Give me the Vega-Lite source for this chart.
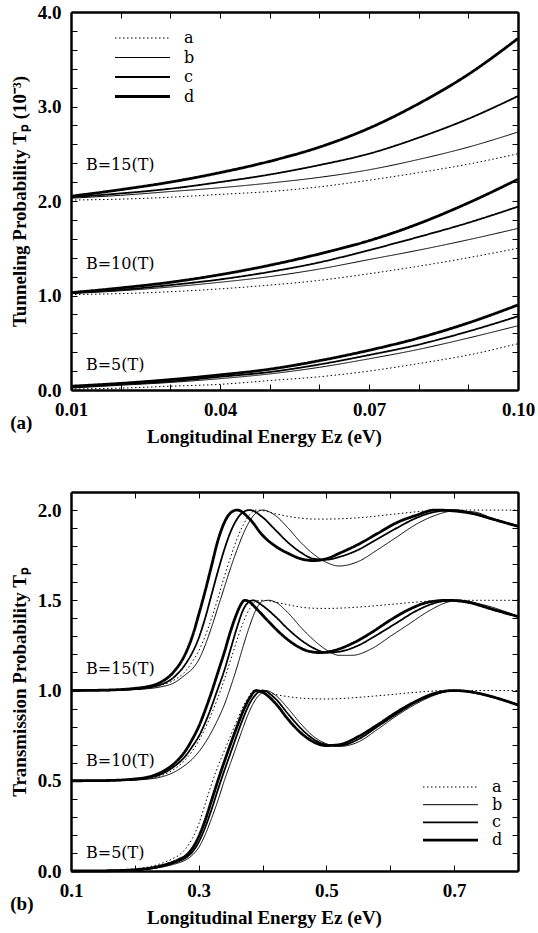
{
"$schema":"https://vega.github.io/schema/vega-lite/v6.json",
"background":"white",
"padding":{"left":10,"top":3,"right":2,"bottom":4},
"spacing":45,
"config":{
 "view":{"stroke":null},
 "axis":{"domainColor":"black","domainWidth":2.5,"tickColor":"black","tickWidth":1,"tickSize":-6,
  "labelFont":"Liberation Serif","labelFontWeight":"bold","labelFontSize":19,"labelColor":"black",
  "titleFont":"Liberation Serif","titleFontWeight":"bold","titleFontSize":19,"titleColor":"black",
  "grid":false,"labelPadding":16,"titlePadding":8,"labelFlush":false,"labelOverlap":false}
},
"resolve":{"legend":{"strokeDash":"independent","strokeWidth":"independent"}},
"datasets":{
"top":[
{"B":15,"curve":"a","E":0.01,"T":2.01},{"B":15,"curve":"a","E":0.02,"T":2.02},{"B":15,"curve":"a","E":0.03,"T":2.04},{"B":15,"curve":"a","E":0.04,"T":2.07},{"B":15,"curve":"a","E":0.05,"T":2.10},{"B":15,"curve":"a","E":0.06,"T":2.15},{"B":15,"curve":"a","E":0.07,"T":2.22},{"B":15,"curve":"a","E":0.08,"T":2.30},{"B":15,"curve":"a","E":0.09,"T":2.39},{"B":15,"curve":"a","E":0.10,"T":2.50},
{"B":15,"curve":"b","E":0.01,"T":2.03},{"B":15,"curve":"b","E":0.02,"T":2.06},{"B":15,"curve":"b","E":0.03,"T":2.10},{"B":15,"curve":"b","E":0.04,"T":2.14},{"B":15,"curve":"b","E":0.05,"T":2.19},{"B":15,"curve":"b","E":0.06,"T":2.25},{"B":15,"curve":"b","E":0.07,"T":2.33},{"B":15,"curve":"b","E":0.08,"T":2.44},{"B":15,"curve":"b","E":0.09,"T":2.57},{"B":15,"curve":"b","E":0.10,"T":2.73},
{"B":15,"curve":"c","E":0.01,"T":2.04},{"B":15,"curve":"c","E":0.02,"T":2.08},{"B":15,"curve":"c","E":0.03,"T":2.13},{"B":15,"curve":"c","E":0.04,"T":2.20},{"B":15,"curve":"c","E":0.05,"T":2.28},{"B":15,"curve":"c","E":0.06,"T":2.38},{"B":15,"curve":"c","E":0.07,"T":2.50},{"B":15,"curve":"c","E":0.08,"T":2.67},{"B":15,"curve":"c","E":0.09,"T":2.87},{"B":15,"curve":"c","E":0.10,"T":3.11},
{"B":15,"curve":"d","E":0.01,"T":2.05},{"B":15,"curve":"d","E":0.02,"T":2.12},{"B":15,"curve":"d","E":0.03,"T":2.20},{"B":15,"curve":"d","E":0.04,"T":2.30},{"B":15,"curve":"d","E":0.05,"T":2.42},{"B":15,"curve":"d","E":0.06,"T":2.57},{"B":15,"curve":"d","E":0.07,"T":2.77},{"B":15,"curve":"d","E":0.08,"T":3.03},{"B":15,"curve":"d","E":0.09,"T":3.34},{"B":15,"curve":"d","E":0.10,"T":3.72},
{"B":10,"curve":"a","E":0.01,"T":1.01},{"B":10,"curve":"a","E":0.02,"T":1.02},{"B":10,"curve":"a","E":0.03,"T":1.04},{"B":10,"curve":"a","E":0.04,"T":1.07},{"B":10,"curve":"a","E":0.05,"T":1.11},{"B":10,"curve":"a","E":0.06,"T":1.16},{"B":10,"curve":"a","E":0.07,"T":1.23},{"B":10,"curve":"a","E":0.08,"T":1.31},{"B":10,"curve":"a","E":0.09,"T":1.40},{"B":10,"curve":"a","E":0.10,"T":1.50},
{"B":10,"curve":"b","E":0.01,"T":1.02},{"B":10,"curve":"b","E":0.02,"T":1.05},{"B":10,"curve":"b","E":0.03,"T":1.09},{"B":10,"curve":"b","E":0.04,"T":1.14},{"B":10,"curve":"b","E":0.05,"T":1.20},{"B":10,"curve":"b","E":0.06,"T":1.28},{"B":10,"curve":"b","E":0.07,"T":1.38},{"B":10,"curve":"b","E":0.08,"T":1.48},{"B":10,"curve":"b","E":0.09,"T":1.59},{"B":10,"curve":"b","E":0.10,"T":1.71},
{"B":10,"curve":"c","E":0.01,"T":1.03},{"B":10,"curve":"c","E":0.02,"T":1.06},{"B":10,"curve":"c","E":0.03,"T":1.11},{"B":10,"curve":"c","E":0.04,"T":1.17},{"B":10,"curve":"c","E":0.05,"T":1.25},{"B":10,"curve":"c","E":0.06,"T":1.35},{"B":10,"curve":"c","E":0.07,"T":1.48},{"B":10,"curve":"c","E":0.08,"T":1.62},{"B":10,"curve":"c","E":0.09,"T":1.77},{"B":10,"curve":"c","E":0.10,"T":1.94},
{"B":10,"curve":"d","E":0.01,"T":1.03},{"B":10,"curve":"d","E":0.02,"T":1.08},{"B":10,"curve":"d","E":0.03,"T":1.14},{"B":10,"curve":"d","E":0.04,"T":1.22},{"B":10,"curve":"d","E":0.05,"T":1.32},{"B":10,"curve":"d","E":0.06,"T":1.44},{"B":10,"curve":"d","E":0.07,"T":1.58},{"B":10,"curve":"d","E":0.08,"T":1.76},{"B":10,"curve":"d","E":0.09,"T":1.98},{"B":10,"curve":"d","E":0.10,"T":2.23},
{"B":5,"curve":"a","E":0.01,"T":0.01},{"B":5,"curve":"a","E":0.02,"T":0.02},{"B":5,"curve":"a","E":0.03,"T":0.04},{"B":5,"curve":"a","E":0.04,"T":0.06},{"B":5,"curve":"a","E":0.05,"T":0.10},{"B":5,"curve":"a","E":0.06,"T":0.14},{"B":5,"curve":"a","E":0.07,"T":0.20},{"B":5,"curve":"a","E":0.08,"T":0.28},{"B":5,"curve":"a","E":0.09,"T":0.37},{"B":5,"curve":"a","E":0.10,"T":0.49},
{"B":5,"curve":"b","E":0.01,"T":0.02},{"B":5,"curve":"b","E":0.02,"T":0.05},{"B":5,"curve":"b","E":0.03,"T":0.08},{"B":5,"curve":"b","E":0.04,"T":0.12},{"B":5,"curve":"b","E":0.05,"T":0.17},{"B":5,"curve":"b","E":0.06,"T":0.24},{"B":5,"curve":"b","E":0.07,"T":0.33},{"B":5,"curve":"b","E":0.08,"T":0.43},{"B":5,"curve":"b","E":0.09,"T":0.55},{"B":5,"curve":"b","E":0.10,"T":0.68},
{"B":5,"curve":"c","E":0.01,"T":0.03},{"B":5,"curve":"c","E":0.02,"T":0.06},{"B":5,"curve":"c","E":0.03,"T":0.09},{"B":5,"curve":"c","E":0.04,"T":0.14},{"B":5,"curve":"c","E":0.05,"T":0.19},{"B":5,"curve":"c","E":0.06,"T":0.27},{"B":5,"curve":"c","E":0.07,"T":0.37},{"B":5,"curve":"c","E":0.08,"T":0.48},{"B":5,"curve":"c","E":0.09,"T":0.62},{"B":5,"curve":"c","E":0.10,"T":0.78},
{"B":5,"curve":"d","E":0.01,"T":0.04},{"B":5,"curve":"d","E":0.02,"T":0.07},{"B":5,"curve":"d","E":0.03,"T":0.11},{"B":5,"curve":"d","E":0.04,"T":0.16},{"B":5,"curve":"d","E":0.05,"T":0.22},{"B":5,"curve":"d","E":0.06,"T":0.31},{"B":5,"curve":"d","E":0.07,"T":0.42},{"B":5,"curve":"d","E":0.08,"T":0.55},{"B":5,"curve":"d","E":0.09,"T":0.71},{"B":5,"curve":"d","E":0.10,"T":0.90}
],
"bottom":[
{"B":15,"curve":"d","E":0.10,"T":1.000},{"B":15,"curve":"d","E":0.15,"T":1.002},{"B":15,"curve":"d","E":0.20,"T":1.012},{"B":15,"curve":"d","E":0.22,"T":1.022},{"B":15,"curve":"d","E":0.24,"T":1.045},{"B":15,"curve":"d","E":0.26,"T":1.10},{"B":15,"curve":"d","E":0.28,"T":1.21},{"B":15,"curve":"d","E":0.29,"T":1.30},{"B":15,"curve":"d","E":0.30,"T":1.42},{"B":15,"curve":"d","E":0.31,"T":1.55},{"B":15,"curve":"d","E":0.32,"T":1.69},{"B":15,"curve":"d","E":0.33,"T":1.83},{"B":15,"curve":"d","E":0.34,"T":1.93},{"B":15,"curve":"d","E":0.35,"T":1.985},{"B":15,"curve":"d","E":0.36,"T":2.00},{"B":15,"curve":"d","E":0.38,"T":1.95},{"B":15,"curve":"d","E":0.40,"T":1.86},{"B":15,"curve":"d","E":0.42,"T":1.80},{"B":15,"curve":"d","E":0.44,"T":1.76},{"B":15,"curve":"d","E":0.46,"T":1.73},{"B":15,"curve":"d","E":0.48,"T":1.72},{"B":15,"curve":"d","E":0.50,"T":1.73},{"B":15,"curve":"d","E":0.52,"T":1.76},{"B":15,"curve":"d","E":0.55,"T":1.81},{"B":15,"curve":"d","E":0.58,"T":1.87},{"B":15,"curve":"d","E":0.61,"T":1.93},{"B":15,"curve":"d","E":0.64,"T":1.97},{"B":15,"curve":"d","E":0.67,"T":2.00},{"B":15,"curve":"d","E":0.70,"T":1.995},{"B":15,"curve":"d","E":0.73,"T":1.98},{"B":15,"curve":"d","E":0.76,"T":1.95},{"B":15,"curve":"d","E":0.80,"T":1.91},
{"B":15,"curve":"c","E":0.10,"T":1.000},{"B":15,"curve":"c","E":0.15,"T":1.001},{"B":15,"curve":"c","E":0.20,"T":1.008},{"B":15,"curve":"c","E":0.22,"T":1.016},{"B":15,"curve":"c","E":0.24,"T":1.032},{"B":15,"curve":"c","E":0.26,"T":1.07},{"B":15,"curve":"c","E":0.28,"T":1.15},{"B":15,"curve":"c","E":0.29,"T":1.21},{"B":15,"curve":"c","E":0.30,"T":1.29},{"B":15,"curve":"c","E":0.31,"T":1.40},{"B":15,"curve":"c","E":0.32,"T":1.53},{"B":15,"curve":"c","E":0.33,"T":1.66},{"B":15,"curve":"c","E":0.34,"T":1.78},{"B":15,"curve":"c","E":0.35,"T":1.88},{"B":15,"curve":"c","E":0.36,"T":1.95},{"B":15,"curve":"c","E":0.37,"T":1.99},{"B":15,"curve":"c","E":0.38,"T":2.00},{"B":15,"curve":"c","E":0.40,"T":1.96},{"B":15,"curve":"c","E":0.42,"T":1.89},{"B":15,"curve":"c","E":0.44,"T":1.82},{"B":15,"curve":"c","E":0.46,"T":1.765},{"B":15,"curve":"c","E":0.48,"T":1.73},{"B":15,"curve":"c","E":0.50,"T":1.725},{"B":15,"curve":"c","E":0.52,"T":1.74},{"B":15,"curve":"c","E":0.55,"T":1.78},{"B":15,"curve":"c","E":0.58,"T":1.84},{"B":15,"curve":"c","E":0.61,"T":1.90},{"B":15,"curve":"c","E":0.64,"T":1.955},{"B":15,"curve":"c","E":0.67,"T":1.99},{"B":15,"curve":"c","E":0.70,"T":2.00},{"B":15,"curve":"c","E":0.73,"T":1.98},{"B":15,"curve":"c","E":0.76,"T":1.95},{"B":15,"curve":"c","E":0.80,"T":1.91},
{"B":15,"curve":"b","E":0.10,"T":1.000},{"B":15,"curve":"b","E":0.15,"T":1.001},{"B":15,"curve":"b","E":0.20,"T":1.005},{"B":15,"curve":"b","E":0.22,"T":1.01},{"B":15,"curve":"b","E":0.24,"T":1.02},{"B":15,"curve":"b","E":0.26,"T":1.04},{"B":15,"curve":"b","E":0.28,"T":1.09},{"B":15,"curve":"b","E":0.29,"T":1.12},{"B":15,"curve":"b","E":0.30,"T":1.17},{"B":15,"curve":"b","E":0.31,"T":1.25},{"B":15,"curve":"b","E":0.32,"T":1.35},{"B":15,"curve":"b","E":0.33,"T":1.46},{"B":15,"curve":"b","E":0.34,"T":1.57},{"B":15,"curve":"b","E":0.35,"T":1.68},{"B":15,"curve":"b","E":0.36,"T":1.78},{"B":15,"curve":"b","E":0.37,"T":1.87},{"B":15,"curve":"b","E":0.38,"T":1.94},{"B":15,"curve":"b","E":0.39,"T":1.985},{"B":15,"curve":"b","E":0.40,"T":2.00},{"B":15,"curve":"b","E":0.42,"T":1.97},{"B":15,"curve":"b","E":0.44,"T":1.90},{"B":15,"curve":"b","E":0.46,"T":1.82},{"B":15,"curve":"b","E":0.48,"T":1.755},{"B":15,"curve":"b","E":0.50,"T":1.71},{"B":15,"curve":"b","E":0.52,"T":1.69},{"B":15,"curve":"b","E":0.55,"T":1.715},{"B":15,"curve":"b","E":0.58,"T":1.78},{"B":15,"curve":"b","E":0.61,"T":1.85},{"B":15,"curve":"b","E":0.64,"T":1.92},{"B":15,"curve":"b","E":0.67,"T":1.97},{"B":15,"curve":"b","E":0.70,"T":1.995},{"B":15,"curve":"b","E":0.73,"T":1.99},{"B":15,"curve":"b","E":0.76,"T":1.955},{"B":15,"curve":"b","E":0.80,"T":1.91},
{"B":15,"curve":"a","E":0.10,"T":1.000},{"B":15,"curve":"a","E":0.15,"T":1.002},{"B":15,"curve":"a","E":0.20,"T":1.008},{"B":15,"curve":"a","E":0.22,"T":1.014},{"B":15,"curve":"a","E":0.24,"T":1.028},{"B":15,"curve":"a","E":0.26,"T":1.055},{"B":15,"curve":"a","E":0.28,"T":1.11},{"B":15,"curve":"a","E":0.29,"T":1.16},{"B":15,"curve":"a","E":0.30,"T":1.22},{"B":15,"curve":"a","E":0.31,"T":1.30},{"B":15,"curve":"a","E":0.32,"T":1.40},{"B":15,"curve":"a","E":0.33,"T":1.51},{"B":15,"curve":"a","E":0.34,"T":1.63},{"B":15,"curve":"a","E":0.35,"T":1.74},{"B":15,"curve":"a","E":0.36,"T":1.84},{"B":15,"curve":"a","E":0.37,"T":1.92},{"B":15,"curve":"a","E":0.38,"T":1.975},{"B":15,"curve":"a","E":0.39,"T":2.00},{"B":15,"curve":"a","E":0.40,"T":1.997},{"B":15,"curve":"a","E":0.42,"T":1.98},{"B":15,"curve":"a","E":0.44,"T":1.965},{"B":15,"curve":"a","E":0.46,"T":1.955},{"B":15,"curve":"a","E":0.48,"T":1.95},{"B":15,"curve":"a","E":0.50,"T":1.95},{"B":15,"curve":"a","E":0.53,"T":1.953},{"B":15,"curve":"a","E":0.56,"T":1.96},{"B":15,"curve":"a","E":0.60,"T":1.975},{"B":15,"curve":"a","E":0.64,"T":1.99},{"B":15,"curve":"a","E":0.68,"T":2.00},{"B":15,"curve":"a","E":0.72,"T":2.00},{"B":15,"curve":"a","E":0.76,"T":2.00},{"B":15,"curve":"a","E":0.80,"T":2.00},
{"B":10,"curve":"d","E":0.10,"T":0.500},{"B":10,"curve":"d","E":0.15,"T":0.501},{"B":10,"curve":"d","E":0.20,"T":0.51},{"B":10,"curve":"d","E":0.22,"T":0.52},{"B":10,"curve":"d","E":0.24,"T":0.545},{"B":10,"curve":"d","E":0.26,"T":0.59},{"B":10,"curve":"d","E":0.28,"T":0.67},{"B":10,"curve":"d","E":0.29,"T":0.73},{"B":10,"curve":"d","E":0.30,"T":0.80},{"B":10,"curve":"d","E":0.31,"T":0.89},{"B":10,"curve":"d","E":0.32,"T":0.99},{"B":10,"curve":"d","E":0.33,"T":1.10},{"B":10,"curve":"d","E":0.34,"T":1.21},{"B":10,"curve":"d","E":0.35,"T":1.33},{"B":10,"curve":"d","E":0.36,"T":1.43},{"B":10,"curve":"d","E":0.365,"T":1.47},{"B":10,"curve":"d","E":0.372,"T":1.50},{"B":10,"curve":"d","E":0.38,"T":1.49},{"B":10,"curve":"d","E":0.39,"T":1.455},{"B":10,"curve":"d","E":0.41,"T":1.38},{"B":10,"curve":"d","E":0.43,"T":1.31},{"B":10,"curve":"d","E":0.45,"T":1.255},{"B":10,"curve":"d","E":0.47,"T":1.22},{"B":10,"curve":"d","E":0.49,"T":1.21},{"B":10,"curve":"d","E":0.51,"T":1.22},{"B":10,"curve":"d","E":0.54,"T":1.26},{"B":10,"curve":"d","E":0.57,"T":1.32},{"B":10,"curve":"d","E":0.60,"T":1.39},{"B":10,"curve":"d","E":0.63,"T":1.45},{"B":10,"curve":"d","E":0.66,"T":1.49},{"B":10,"curve":"d","E":0.69,"T":1.50},{"B":10,"curve":"d","E":0.72,"T":1.49},{"B":10,"curve":"d","E":0.76,"T":1.45},{"B":10,"curve":"d","E":0.80,"T":1.41},
{"B":10,"curve":"c","E":0.10,"T":0.500},{"B":10,"curve":"c","E":0.15,"T":0.501},{"B":10,"curve":"c","E":0.20,"T":0.507},{"B":10,"curve":"c","E":0.22,"T":0.515},{"B":10,"curve":"c","E":0.24,"T":0.535},{"B":10,"curve":"c","E":0.26,"T":0.575},{"B":10,"curve":"c","E":0.28,"T":0.64},{"B":10,"curve":"c","E":0.29,"T":0.69},{"B":10,"curve":"c","E":0.30,"T":0.745},{"B":10,"curve":"c","E":0.31,"T":0.82},{"B":10,"curve":"c","E":0.32,"T":0.91},{"B":10,"curve":"c","E":0.33,"T":1.01},{"B":10,"curve":"c","E":0.34,"T":1.11},{"B":10,"curve":"c","E":0.35,"T":1.23},{"B":10,"curve":"c","E":0.36,"T":1.35},{"B":10,"curve":"c","E":0.37,"T":1.45},{"B":10,"curve":"c","E":0.38,"T":1.495},{"B":10,"curve":"c","E":0.385,"T":1.50},{"B":10,"curve":"c","E":0.40,"T":1.47},{"B":10,"curve":"c","E":0.42,"T":1.41},{"B":10,"curve":"c","E":0.44,"T":1.34},{"B":10,"curve":"c","E":0.46,"T":1.28},{"B":10,"curve":"c","E":0.48,"T":1.235},{"B":10,"curve":"c","E":0.50,"T":1.21},{"B":10,"curve":"c","E":0.52,"T":1.215},{"B":10,"curve":"c","E":0.55,"T":1.25},{"B":10,"curve":"c","E":0.58,"T":1.31},{"B":10,"curve":"c","E":0.61,"T":1.375},{"B":10,"curve":"c","E":0.64,"T":1.44},{"B":10,"curve":"c","E":0.67,"T":1.485},{"B":10,"curve":"c","E":0.70,"T":1.50},{"B":10,"curve":"c","E":0.73,"T":1.485},{"B":10,"curve":"c","E":0.76,"T":1.45},{"B":10,"curve":"c","E":0.80,"T":1.41},
{"B":10,"curve":"b","E":0.10,"T":0.500},{"B":10,"curve":"b","E":0.15,"T":0.501},{"B":10,"curve":"b","E":0.20,"T":0.504},{"B":10,"curve":"b","E":0.22,"T":0.509},{"B":10,"curve":"b","E":0.24,"T":0.52},{"B":10,"curve":"b","E":0.26,"T":0.545},{"B":10,"curve":"b","E":0.28,"T":0.59},{"B":10,"curve":"b","E":0.29,"T":0.62},{"B":10,"curve":"b","E":0.30,"T":0.66},{"B":10,"curve":"b","E":0.31,"T":0.71},{"B":10,"curve":"b","E":0.32,"T":0.77},{"B":10,"curve":"b","E":0.33,"T":0.84},{"B":10,"curve":"b","E":0.34,"T":0.92},{"B":10,"curve":"b","E":0.35,"T":1.02},{"B":10,"curve":"b","E":0.36,"T":1.13},{"B":10,"curve":"b","E":0.37,"T":1.25},{"B":10,"curve":"b","E":0.38,"T":1.36},{"B":10,"curve":"b","E":0.39,"T":1.45},{"B":10,"curve":"b","E":0.40,"T":1.495},{"B":10,"curve":"b","E":0.41,"T":1.50},{"B":10,"curve":"b","E":0.42,"T":1.49},{"B":10,"curve":"b","E":0.44,"T":1.43},{"B":10,"curve":"b","E":0.46,"T":1.35},{"B":10,"curve":"b","E":0.48,"T":1.28},{"B":10,"curve":"b","E":0.50,"T":1.225},{"B":10,"curve":"b","E":0.52,"T":1.195},{"B":10,"curve":"b","E":0.54,"T":1.195},{"B":10,"curve":"b","E":0.57,"T":1.23},{"B":10,"curve":"b","E":0.60,"T":1.30},{"B":10,"curve":"b","E":0.63,"T":1.37},{"B":10,"curve":"b","E":0.66,"T":1.44},{"B":10,"curve":"b","E":0.69,"T":1.49},{"B":10,"curve":"b","E":0.71,"T":1.50},{"B":10,"curve":"b","E":0.74,"T":1.48},{"B":10,"curve":"b","E":0.77,"T":1.45},{"B":10,"curve":"b","E":0.80,"T":1.41},
{"B":10,"curve":"a","E":0.10,"T":0.500},{"B":10,"curve":"a","E":0.15,"T":0.502},{"B":10,"curve":"a","E":0.20,"T":0.506},{"B":10,"curve":"a","E":0.22,"T":0.512},{"B":10,"curve":"a","E":0.24,"T":0.527},{"B":10,"curve":"a","E":0.26,"T":0.56},{"B":10,"curve":"a","E":0.28,"T":0.62},{"B":10,"curve":"a","E":0.29,"T":0.665},{"B":10,"curve":"a","E":0.30,"T":0.72},{"B":10,"curve":"a","E":0.31,"T":0.79},{"B":10,"curve":"a","E":0.32,"T":0.87},{"B":10,"curve":"a","E":0.33,"T":0.96},{"B":10,"curve":"a","E":0.34,"T":1.06},{"B":10,"curve":"a","E":0.35,"T":1.17},{"B":10,"curve":"a","E":0.36,"T":1.28},{"B":10,"curve":"a","E":0.37,"T":1.38},{"B":10,"curve":"a","E":0.38,"T":1.455},{"B":10,"curve":"a","E":0.39,"T":1.495},{"B":10,"curve":"a","E":0.40,"T":1.50},{"B":10,"curve":"a","E":0.42,"T":1.49},{"B":10,"curve":"a","E":0.44,"T":1.475},{"B":10,"curve":"a","E":0.46,"T":1.462},{"B":10,"curve":"a","E":0.48,"T":1.456},{"B":10,"curve":"a","E":0.50,"T":1.455},{"B":10,"curve":"a","E":0.53,"T":1.458},{"B":10,"curve":"a","E":0.56,"T":1.465},{"B":10,"curve":"a","E":0.60,"T":1.477},{"B":10,"curve":"a","E":0.64,"T":1.49},{"B":10,"curve":"a","E":0.68,"T":1.499},{"B":10,"curve":"a","E":0.72,"T":1.50},{"B":10,"curve":"a","E":0.76,"T":1.50},{"B":10,"curve":"a","E":0.80,"T":1.50},
{"B":5,"curve":"d","E":0.10,"T":0.000},{"B":5,"curve":"d","E":0.15,"T":0.001},{"B":5,"curve":"d","E":0.20,"T":0.007},{"B":5,"curve":"d","E":0.22,"T":0.014},{"B":5,"curve":"d","E":0.24,"T":0.028},{"B":5,"curve":"d","E":0.26,"T":0.05},{"B":5,"curve":"d","E":0.27,"T":0.065},{"B":5,"curve":"d","E":0.28,"T":0.085},{"B":5,"curve":"d","E":0.29,"T":0.125},{"B":5,"curve":"d","E":0.30,"T":0.19},{"B":5,"curve":"d","E":0.31,"T":0.28},{"B":5,"curve":"d","E":0.32,"T":0.39},{"B":5,"curve":"d","E":0.33,"T":0.50},{"B":5,"curve":"d","E":0.34,"T":0.605},{"B":5,"curve":"d","E":0.35,"T":0.705},{"B":5,"curve":"d","E":0.36,"T":0.80},{"B":5,"curve":"d","E":0.37,"T":0.89},{"B":5,"curve":"d","E":0.38,"T":0.96},{"B":5,"curve":"d","E":0.39,"T":1.00},{"B":5,"curve":"d","E":0.40,"T":0.99},{"B":5,"curve":"d","E":0.42,"T":0.93},{"B":5,"curve":"d","E":0.44,"T":0.84},{"B":5,"curve":"d","E":0.46,"T":0.765},{"B":5,"curve":"d","E":0.48,"T":0.715},{"B":5,"curve":"d","E":0.50,"T":0.695},{"B":5,"curve":"d","E":0.52,"T":0.70},{"B":5,"curve":"d","E":0.55,"T":0.745},{"B":5,"curve":"d","E":0.58,"T":0.81},{"B":5,"curve":"d","E":0.61,"T":0.88},{"B":5,"curve":"d","E":0.64,"T":0.94},{"B":5,"curve":"d","E":0.67,"T":0.985},{"B":5,"curve":"d","E":0.70,"T":1.00},{"B":5,"curve":"d","E":0.73,"T":0.99},{"B":5,"curve":"d","E":0.76,"T":0.965},{"B":5,"curve":"d","E":0.80,"T":0.92},
{"B":5,"curve":"c","E":0.10,"T":0.000},{"B":5,"curve":"c","E":0.15,"T":0.001},{"B":5,"curve":"c","E":0.20,"T":0.006},{"B":5,"curve":"c","E":0.22,"T":0.012},{"B":5,"curve":"c","E":0.24,"T":0.024},{"B":5,"curve":"c","E":0.26,"T":0.043},{"B":5,"curve":"c","E":0.27,"T":0.056},{"B":5,"curve":"c","E":0.28,"T":0.074},{"B":5,"curve":"c","E":0.29,"T":0.105},{"B":5,"curve":"c","E":0.30,"T":0.16},{"B":5,"curve":"c","E":0.31,"T":0.24},{"B":5,"curve":"c","E":0.32,"T":0.34},{"B":5,"curve":"c","E":0.33,"T":0.45},{"B":5,"curve":"c","E":0.34,"T":0.555},{"B":5,"curve":"c","E":0.35,"T":0.655},{"B":5,"curve":"c","E":0.36,"T":0.755},{"B":5,"curve":"c","E":0.37,"T":0.85},{"B":5,"curve":"c","E":0.38,"T":0.93},{"B":5,"curve":"c","E":0.39,"T":0.98},{"B":5,"curve":"c","E":0.395,"T":0.995},{"B":5,"curve":"c","E":0.40,"T":1.00},{"B":5,"curve":"c","E":0.42,"T":0.955},{"B":5,"curve":"c","E":0.44,"T":0.87},{"B":5,"curve":"c","E":0.46,"T":0.79},{"B":5,"curve":"c","E":0.48,"T":0.73},{"B":5,"curve":"c","E":0.50,"T":0.70},{"B":5,"curve":"c","E":0.52,"T":0.695},{"B":5,"curve":"c","E":0.55,"T":0.73},{"B":5,"curve":"c","E":0.58,"T":0.80},{"B":5,"curve":"c","E":0.61,"T":0.87},{"B":5,"curve":"c","E":0.64,"T":0.935},{"B":5,"curve":"c","E":0.67,"T":0.98},{"B":5,"curve":"c","E":0.70,"T":1.00},{"B":5,"curve":"c","E":0.73,"T":0.99},{"B":5,"curve":"c","E":0.76,"T":0.965},{"B":5,"curve":"c","E":0.80,"T":0.92},
{"B":5,"curve":"b","E":0.10,"T":0.000},{"B":5,"curve":"b","E":0.15,"T":0.001},{"B":5,"curve":"b","E":0.20,"T":0.005},{"B":5,"curve":"b","E":0.22,"T":0.01},{"B":5,"curve":"b","E":0.24,"T":0.02},{"B":5,"curve":"b","E":0.26,"T":0.036},{"B":5,"curve":"b","E":0.27,"T":0.047},{"B":5,"curve":"b","E":0.28,"T":0.062},{"B":5,"curve":"b","E":0.29,"T":0.088},{"B":5,"curve":"b","E":0.30,"T":0.13},{"B":5,"curve":"b","E":0.31,"T":0.20},{"B":5,"curve":"b","E":0.32,"T":0.29},{"B":5,"curve":"b","E":0.33,"T":0.39},{"B":5,"curve":"b","E":0.34,"T":0.50},{"B":5,"curve":"b","E":0.35,"T":0.60},{"B":5,"curve":"b","E":0.36,"T":0.70},{"B":5,"curve":"b","E":0.37,"T":0.80},{"B":5,"curve":"b","E":0.38,"T":0.89},{"B":5,"curve":"b","E":0.39,"T":0.955},{"B":5,"curve":"b","E":0.40,"T":0.99},{"B":5,"curve":"b","E":0.405,"T":1.00},{"B":5,"curve":"b","E":0.42,"T":0.975},{"B":5,"curve":"b","E":0.44,"T":0.90},{"B":5,"curve":"b","E":0.46,"T":0.815},{"B":5,"curve":"b","E":0.48,"T":0.745},{"B":5,"curve":"b","E":0.50,"T":0.705},{"B":5,"curve":"b","E":0.52,"T":0.69},{"B":5,"curve":"b","E":0.55,"T":0.715},{"B":5,"curve":"b","E":0.58,"T":0.785},{"B":5,"curve":"b","E":0.61,"T":0.86},{"B":5,"curve":"b","E":0.64,"T":0.925},{"B":5,"curve":"b","E":0.67,"T":0.975},{"B":5,"curve":"b","E":0.70,"T":1.00},{"B":5,"curve":"b","E":0.73,"T":0.99},{"B":5,"curve":"b","E":0.76,"T":0.965},{"B":5,"curve":"b","E":0.80,"T":0.92},
{"B":5,"curve":"a","E":0.10,"T":0.000},{"B":5,"curve":"a","E":0.15,"T":0.002},{"B":5,"curve":"a","E":0.20,"T":0.012},{"B":5,"curve":"a","E":0.22,"T":0.022},{"B":5,"curve":"a","E":0.24,"T":0.04},{"B":5,"curve":"a","E":0.26,"T":0.07},{"B":5,"curve":"a","E":0.27,"T":0.09},{"B":5,"curve":"a","E":0.28,"T":0.125},{"B":5,"curve":"a","E":0.29,"T":0.18},{"B":5,"curve":"a","E":0.30,"T":0.26},{"B":5,"curve":"a","E":0.31,"T":0.37},{"B":5,"curve":"a","E":0.32,"T":0.48},{"B":5,"curve":"a","E":0.33,"T":0.58},{"B":5,"curve":"a","E":0.34,"T":0.665},{"B":5,"curve":"a","E":0.35,"T":0.75},{"B":5,"curve":"a","E":0.36,"T":0.835},{"B":5,"curve":"a","E":0.37,"T":0.915},{"B":5,"curve":"a","E":0.38,"T":0.975},{"B":5,"curve":"a","E":0.385,"T":1.00},{"B":5,"curve":"a","E":0.40,"T":0.995},{"B":5,"curve":"a","E":0.42,"T":0.978},{"B":5,"curve":"a","E":0.44,"T":0.966},{"B":5,"curve":"a","E":0.46,"T":0.958},{"B":5,"curve":"a","E":0.48,"T":0.954},{"B":5,"curve":"a","E":0.50,"T":0.953},{"B":5,"curve":"a","E":0.53,"T":0.957},{"B":5,"curve":"a","E":0.56,"T":0.965},{"B":5,"curve":"a","E":0.60,"T":0.977},{"B":5,"curve":"a","E":0.64,"T":0.99},{"B":5,"curve":"a","E":0.68,"T":0.999},{"B":5,"curve":"a","E":0.72,"T":1.00},{"B":5,"curve":"a","E":0.76,"T":1.00},{"B":5,"curve":"a","E":0.80,"T":1.00}
],
"labTop":[{"E":0.013,"T":2.38,"label":"B=15(T)"},{"E":0.013,"T":1.33,"label":"B=10(T)"},{"E":0.013,"T":0.26,"label":"B=5(T)"}],
"labBot":[{"E":0.1235,"T":1.122,"label":"B=15(T)"},{"E":0.1235,"T":0.608,"label":"B=10(T)"},{"E":0.1235,"T":0.097,"label":"B=5(T)"}]
},
"vconcat":[
{
 "width":447,"height":378,
 "title":{"text":"(a)","orient":"bottom","anchor":"start","frame":"bounds","offset":-32,"fontSize":19,"fontWeight":"bold","font":"Liberation Serif","color":"black"},
 "resolve":{"axis":{"x":"independent","y":"independent"}},
 "layer":[
  {"data":{"name":"top"},
   "mark":{"type":"line","interpolate":"monotone","color":"black"},
   "encoding":{
    "x":{"field":"E","type":"quantitative","scale":{"domain":[0.01,0.1],"nice":false,"zero":false},
      "axis":{"orient":"bottom","values":[0.01,0.02,0.03,0.04,0.05,0.06,0.07,0.08,0.09,0.1],"labelExpr":"abs((datum.value-0.01)/0.03-round((datum.value-0.01)/0.03))<0.01 ? format(datum.value,'.2f') : ''","title":"Longitudinal Energy Ez (eV)","titleX":193}},
    "y":{"field":"T","type":"quantitative","scale":{"domain":[0,4],"nice":false},
      "axis":{"orient":"left","values":[0,0.2,0.4,0.6,0.8,1,1.2,1.4,1.6,1.8,2,2.2,2.4,2.6,2.8,3,3.2,3.4,3.6,3.8,4],"labelExpr":"abs(datum.value-round(datum.value))<0.01 ? format(datum.value,'.1f') : ''","title":"Tunneling Probability Tₚ (10⁻³)"}},
    "detail":{"field":"B"},
    "strokeDash":{"field":"curve","type":"nominal","scale":{"type":"ordinal","domain":["a","b","c","d"],"range":[[1.5,2.5],[1,0],[1,0],[1,0]]},
      "legend":{"orient":"none","legendX":41,"legendY":18,"title":null,"symbolType":"M-1,0H10","symbolSize":100,"symbolStrokeColor":"black","labelFont":"DejaVu Serif","labelFontSize":16,"labelColor":"black","labelOffset":56,"rowPadding":3.5}},
    "strokeWidth":{"field":"curve","type":"nominal","scale":{"type":"ordinal","domain":["a","b","c","d"],"range":[1,1,1.8,2.8]},
      "legend":{"orient":"none","legendX":41,"legendY":18,"title":null,"symbolType":"M-1,0H10","symbolSize":100,"symbolStrokeColor":"black","labelFont":"DejaVu Serif","labelFontSize":16,"labelColor":"black","labelOffset":56,"rowPadding":3.5}}
   }},
  {"data":{"name":"labTop"},
   "mark":{"type":"text","align":"left","baseline":"middle","font":"DejaVu Serif","fontSize":16,"color":"black"},
   "encoding":{
    "x":{"field":"E","type":"quantitative","scale":{"domain":[0.01,0.1],"nice":false,"zero":false},
      "axis":{"orient":"top","values":[0.01,0.02,0.03,0.04,0.05,0.06,0.07,0.08,0.09,0.1],"labels":false,"title":null}},
    "y":{"field":"T","type":"quantitative","scale":{"domain":[0,4],"nice":false},
      "axis":{"orient":"right","values":[0,0.2,0.4,0.6,0.8,1,1.2,1.4,1.6,1.8,2,2.2,2.4,2.6,2.8,3,3.2,3.4,3.6,3.8,4],"labels":false,"title":null}},
    "text":{"field":"label"}
   }}
 ]
},
{
 "width":447,"height":379,
 "title":{"text":"(b)","orient":"bottom","anchor":"start","frame":"bounds","offset":-32,"fontSize":19,"fontWeight":"bold","font":"Liberation Serif","color":"black"},
 "resolve":{"axis":{"x":"independent","y":"independent"}},
 "layer":[
  {"data":{"name":"bottom"},
   "mark":{"type":"line","interpolate":"monotone","color":"black"},
   "encoding":{
    "x":{"field":"E","type":"quantitative","scale":{"domain":[0.1,0.8],"nice":false,"zero":false},
      "axis":{"orient":"bottom","values":[0.1,0.2,0.3,0.4,0.5,0.6,0.7,0.8],"labelExpr":"abs((datum.value-0.1)/0.2-round((datum.value-0.1)/0.2))<0.01 ? format(datum.value,'.1f') : ''","title":"Longitudinal Energy Ez (eV)","titleX":193}},
    "y":{"field":"T","type":"quantitative","scale":{"domain":[0,2.1],"nice":false},
      "axis":{"orient":"left","values":[0,0.1,0.2,0.3,0.4,0.5,0.6,0.7,0.8,0.9,1,1.1,1.2,1.3,1.4,1.5,1.6,1.7,1.8,1.9,2],"labelExpr":"abs(datum.value*2-round(datum.value*2))<0.01 ? format(datum.value,'.1f') : ''","title":"Transmission Probability Tₚ"}},
    "detail":{"field":"B"},
    "strokeDash":{"field":"curve","type":"nominal","scale":{"type":"ordinal","domain":["a","b","c","d"],"range":[[1.5,2.5],[1,0],[1,0],[1,0]]},
      "legend":{"orient":"none","legendX":349,"legendY":287,"title":null,"symbolType":"M-1,0H10","symbolSize":100,"symbolStrokeColor":"black","labelFont":"DejaVu Serif","labelFontSize":16,"labelColor":"black","labelOffset":56,"rowPadding":1.7}},
    "strokeWidth":{"field":"curve","type":"nominal","scale":{"type":"ordinal","domain":["a","b","c","d"],"range":[1,1,1.8,2.8]},
      "legend":{"orient":"none","legendX":349,"legendY":287,"title":null,"symbolType":"M-1,0H10","symbolSize":100,"symbolStrokeColor":"black","labelFont":"DejaVu Serif","labelFontSize":16,"labelColor":"black","labelOffset":56,"rowPadding":1.7}}
   }},
  {"data":{"name":"labBot"},
   "mark":{"type":"text","align":"left","baseline":"middle","font":"DejaVu Serif","fontSize":16,"color":"black"},
   "encoding":{
    "x":{"field":"E","type":"quantitative","scale":{"domain":[0.1,0.8],"nice":false,"zero":false},
      "axis":{"orient":"top","values":[0.1,0.2,0.3,0.4,0.5,0.6,0.7,0.8],"labels":false,"title":null}},
    "y":{"field":"T","type":"quantitative","scale":{"domain":[0,2.1],"nice":false},
      "axis":{"orient":"right","values":[0,0.1,0.2,0.3,0.4,0.5,0.6,0.7,0.8,0.9,1,1.1,1.2,1.3,1.4,1.5,1.6,1.7,1.8,1.9,2],"labels":false,"title":null}},
    "text":{"field":"label"}
   }}
 ]
}
]
}
